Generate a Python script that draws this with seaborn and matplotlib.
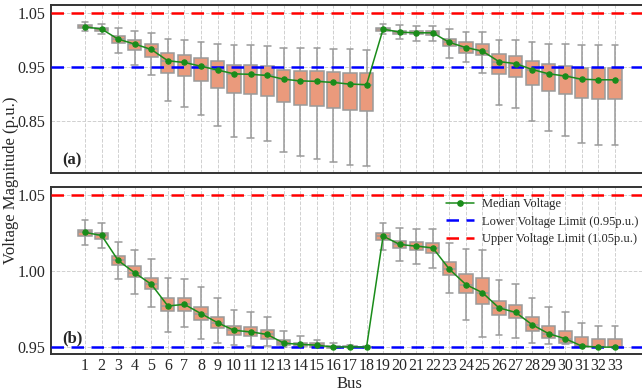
import numpy as np
import pandas as pd
import seaborn as sns
import matplotlib.pyplot as plt
from matplotlib.lines import Line2D

# --- data (per bus: whisker low, q1, median, q3, whisker high) ---
buses = list(range(1, 34))

a_low = [1.017, 1.012, 0.977, 0.955, 0.935, 0.887, 0.876, 0.862, 0.841, 0.822, 0.819,
         0.814, 0.794, 0.787, 0.780, 0.775, 0.769, 0.767, 1.012, 1.002, 0.9995, 0.998,
         0.967, 0.960, 0.940, 0.881, 0.875, 0.850, 0.832, 0.823, 0.810, 0.807, 0.806]
a_q1 = [1.022, 1.0175, 0.995, 0.982, 0.970, 0.940, 0.934, 0.925, 0.912, 0.902, 0.900,
        0.897, 0.886, 0.881, 0.878, 0.875, 0.871, 0.869, 1.0175, 1.012, 1.011, 1.009,
        0.989, 0.977, 0.972, 0.937, 0.933, 0.918, 0.907, 0.901, 0.894, 0.892, 0.892]
a_med = [1.0249, 1.0206, 1.002, 0.993, 0.983, 0.962, 0.959, 0.952, 0.945, 0.938, 0.937,
         0.935, 0.928, 0.925, 0.924, 0.922, 0.919, 0.918, 1.0206, 1.015, 1.0138, 1.0138,
         0.996, 0.9865, 0.980, 0.9605, 0.957, 0.946, 0.938, 0.934, 0.928, 0.927, 0.927]
a_q3 = [1.028, 1.023, 1.008, 1.000, 0.993, 0.976, 0.972, 0.967, 0.961, 0.955, 0.955,
        0.952, 0.946, 0.944, 0.943, 0.941, 0.940, 0.939, 1.022, 1.018, 1.017, 1.017,
        1.003, 0.996, 0.993, 0.974, 0.971, 0.962, 0.957, 0.953, 0.949, 0.948, 0.949]
a_high = [1.033, 1.030, 1.022, 1.017, 1.013, 1.002, 1.000, 0.997, 0.994, 0.991, 0.991,
          0.990, 0.986, 0.985, 0.985, 0.983, 0.983, 0.982, 1.030, 1.028, 1.027, 1.027,
          1.020, 1.016, 1.015, 1.001, 1.000, 0.996, 0.994, 0.993, 0.992, 0.992, 0.992]

b_low = [1.0167, 1.0147, 0.9945, 0.985, 0.976, 0.960, 0.963, 0.9555, 0.953, 0.9513, 0.9507,
         0.9507, 0.9500, 0.9500, 0.9500, 0.9495, 0.9496, 0.9497, 1.0138, 1.0066, 1.0044, 1.0022,
         0.9853, 0.9675, 0.9566, 0.958, 0.956, 0.9528, 0.9518, 0.9518, 0.9500, 0.9500, 0.9500]
b_q1 = [1.023, 1.021, 1.004, 0.9958, 0.988, 0.9735, 0.974, 0.968, 0.9627, 0.9577, 0.957,
        0.9555, 0.9513, 0.9507, 0.9502, 0.9497, 0.9498, 0.9498, 1.020, 1.0147, 1.0136, 1.0116,
        0.9974, 0.9853, 0.9785, 0.971, 0.9689, 0.9605, 0.9557, 0.9526, 0.9500, 0.9500, 0.9500]
b_med = [1.0252, 1.0232, 1.0068, 0.9987, 0.9912, 0.977, 0.978, 0.972, 0.966, 0.961, 0.960,
         0.9583, 0.9526, 0.9518, 0.9513, 0.9500, 0.9502, 0.9500, 1.0228, 1.0173, 1.0162, 1.0151,
         1.0011, 0.991, 0.9857, 0.9757, 0.9728, 0.9647, 0.9588, 0.9555, 0.9507, 0.9500, 0.9500]
b_q3 = [1.027, 1.025, 1.010, 1.0029, 0.9952, 0.982, 0.982, 0.976, 0.970, 0.9638, 0.963,
        0.9614, 0.9546, 0.953, 0.9524, 0.9510, 0.9506, 0.9503, 1.025, 1.0197, 1.0189, 1.0184,
        1.006, 0.9978, 0.9952, 0.980, 0.9778, 0.9697, 0.964, 0.9607, 0.9564, 0.9555, 0.9550]
b_high = [1.0333, 1.0316, 1.0189, 1.0134, 1.0075, 0.995, 0.9947, 0.9895, 0.982, 0.9743, 0.9728,
          0.970, 0.9607, 0.9575, 0.9548, 0.9526, 0.9512, 0.9505, 1.0311, 1.028, 1.0276, 1.0276,
          1.0184, 1.0143, 1.0136, 0.9939, 0.9912, 0.9825, 0.9763, 0.9732, 0.966, 0.9638, 0.9638]

lower_limit = 0.95
upper_limit = 1.05


def long_table(stats):
    # five summary values per bus -> quartiles/whiskers come out exactly with whis=(0, 100)
    rows = []
    for i, bus in enumerate(buses):
        for s in stats:
            rows.append({'Bus': bus, 'V': s[i]})
    return pd.DataFrame(rows)


df_a = long_table([a_low, a_q1, a_med, a_q3, a_high])
df_b = long_table([b_low, b_q1, b_med, b_q3, b_high])

# --- style ---
sns.set_theme(style='white')
plt.rcParams['font.family'] = ['Liberation Serif', 'DejaVu Serif']

fig = plt.figure(figsize=(6.42, 3.92), dpi=100)
ax_a = fig.add_axes([0.0794, 0.559, 0.93, 0.428])
ax_b = fig.add_axes([0.0794, 0.097, 0.93, 0.426])

box_col = '#EA9A7C'
edge_col = '#9a9a9a'
med_col = '#1a8c1a'

for ax, df in [(ax_a, df_a), (ax_b, df_b)]:
    sns.boxplot(data=df, x='Bus', y='V', ax=ax, whis=(0, 100), width=0.8,
                color=box_col, saturation=1, linecolor=edge_col, linewidth=1.1,
                fliersize=0, zorder=3)
    sns.pointplot(data=df, x='Bus', y='V', ax=ax, estimator='median', errorbar=None,
                  color=med_col, markers='o', markersize=3.8, linewidth=1.1, zorder=5)
    ax.axhline(lower_limit, color='blue', ls=(0, (5, 3)), lw=1.8, zorder=4)
    ax.axhline(upper_limit, color='red', ls=(0, (5, 3)), lw=1.8, zorder=4)
    ax.set_xlim(-2.06, 34.0)
    ax.grid(True, ls='--', color='#d0d0d0', lw=0.7)
    ax.set_axisbelow(True)
    ax.set_xlabel('')
    ax.set_ylabel('')
    for sp in ax.spines.values():
        sp.set_color('#333333')
        sp.set_linewidth(1.4)
    ax.tick_params(axis='y', labelsize=11.5, length=3, width=0.8, color='#333333', pad=1)
    ax.tick_params(axis='x', labelsize=11.5, length=0, pad=3)

ax_a.set_ylim(0.755, 1.065)
ax_a.set_yticks([0.85, 0.95, 1.05])
ax_a.set_yticklabels(['0.85', '0.95', '1.05'])
ax_a.tick_params(axis='x', labelbottom=False)

ax_b.set_ylim(0.9455, 1.055)
ax_b.set_yticks([0.95, 1.00, 1.05])
ax_b.set_yticklabels(['0.95', '1.00', '1.05'])
ax_b.set_xlabel('Bus', fontsize=12, labelpad=1)

ax_a.text(0.019, 0.05, '(a)', transform=ax_a.transAxes, fontsize=12, fontweight='bold')
ax_b.text(0.019, 0.07, '(b)', transform=ax_b.transAxes, fontsize=12, fontweight='bold')

fig.text(0.017, 0.54, 'Voltage Magnitude (p.u.)', rotation=90, ha='center', va='center',
         fontsize=12)

handles = [
    Line2D([], [], color=med_col, marker='o', markersize=3.8, lw=1.1),
    Line2D([], [], color='blue', ls=(0, (5, 3)), lw=1.8),
    Line2D([], [], color='red', ls=(0, (5, 3)), lw=1.8),
]
labels = ['Median Voltage', 'Lower Voltage Limit (0.95p.u.)', 'Upper Voltage Limit (1.05p.u.)']
fig.legend(handles, labels, loc='upper left', bbox_to_anchor=(0.695, 0.495), frameon=False,
           fontsize=9, handlelength=2.2, labelspacing=0.45, borderaxespad=0,
           handletextpad=0.7, borderpad=0)

plt.savefig('out.png', dpi=100)
plt.close()
